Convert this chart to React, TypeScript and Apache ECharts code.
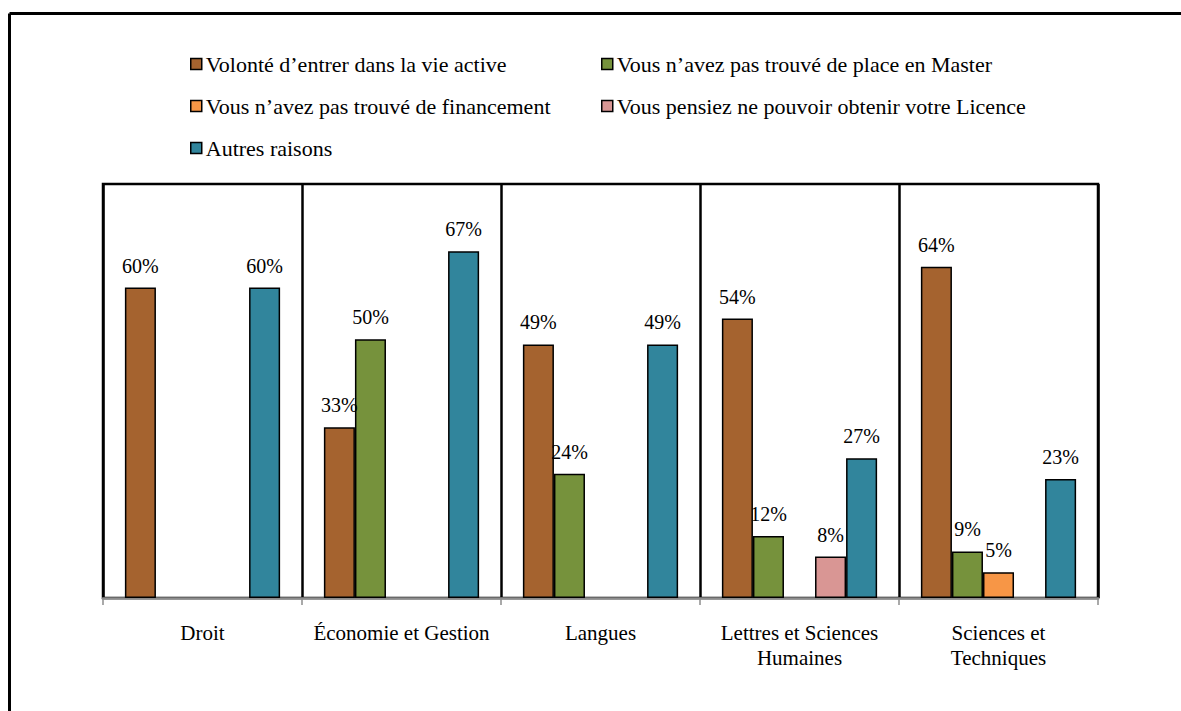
import React, { useEffect, useRef } from "react";
import * as echarts from "echarts";

const categories = [
  "Droit",
  "Économie et Gestion",
  "Langues",
  "Lettres et Sciences\nHumaines",
  "Sciences et\nTechniques",
];

const seriesNames = [
  "Volonté d’entrer dans la vie active",
  "Vous n’avez pas trouvé de place en Master",
  "Vous n’avez pas trouvé de financement",
  "Vous pensiez ne pouvoir obtenir votre Licence",
  "Autres raisons",
];

const volonte = [60, 33, 49, 54, 64];
const master = [null, 50, 24, 12, 9];
const financement = [null, null, null, null, 5];
const licence = [null, null, null, 8, null];
const autres = [60, 67, 49, 27, 23];

const seriesValues = [volonte, master, financement, licence, autres];
const colors = ["#A5632F", "#76923C", "#F79646", "#D99694", "#31859C"];

const FONT = "Liberation Serif";

export default function App() {
  const ref = useRef<HTMLDivElement>(null);
  useEffect(() => {
    if (!ref.current) return;
    const chart = echarts.init(ref.current, null, { renderer: "svg" });
    const legendCommon = {
      orient: "vertical",
      itemWidth: 11,
      itemHeight: 11,
      itemGap: 18,
      icon: "rect",
      selectedMode: false,
      textStyle: { fontFamily: FONT, fontSize: 22, color: "#000", lineHeight: 24, padding: [0, 0, 0, -1] },
      itemStyle: { borderColor: "#000", borderWidth: 1.5 },
    };
    chart.setOption({
      animation: false,
      backgroundColor: "#fff",
      textStyle: { fontFamily: FONT },
      graphic: [
        { type: "line", shape: { x1: 9.5, y1: 13.5, x2: 1181, y2: 13.5 }, style: { stroke: "#000", lineWidth: 3 } },
        { type: "line", shape: { x1: 9.5, y1: 13.5, x2: 9.5, y2: 711 }, style: { stroke: "#000", lineWidth: 3 } },
      ],
      legend: [
        { ...legendCommon, left: 185, top: 47, data: [seriesNames[0], seriesNames[2], seriesNames[4]] },
        { ...legendCommon, left: 596, top: 47, data: [seriesNames[1], seriesNames[3]] },
      ],
      grid: {
        left: 103,
        right: 83,
        top: 184,
        bottom: 113,
        show: true,
        borderColor: "#000",
        borderWidth: 2.5,
        containLabel: false,
      },
      xAxis: {
        type: "category",
        data: categories,
        axisLine: { show: true, lineStyle: { color: "#8c8c8c", width: 2.5 } },
        axisTick: { show: true, length: 7, lineStyle: { color: "#8c8c8c", width: 1.5 } },
        splitLine: { show: true, lineStyle: { color: "#000", width: 2.5 } },
        axisLabel: {
          fontFamily: FONT,
          fontSize: 21,
          color: "#000",
          lineHeight: 25,
          margin: 22,
          interval: 0,
        },
      },
      yAxis: {
        type: "value",
        min: 0,
        max: 80,
        interval: 80,
        show: true,
        axisLine: { show: false },
        axisTick: { show: false },
        axisLabel: { show: false },
        splitLine: { show: false },
      },
      series: seriesValues.map((vals, i) => ({
        name: seriesNames[i],
        type: "bar",
        data: vals,
        barGap: "0%",
        barCategoryGap: "22%",
        itemStyle: { color: colors[i], borderColor: "#000", borderWidth: 1.5 },
        label: {
          show: true,
          position: "top",
          distance: 12,
          formatter: "{c}%",
          fontFamily: FONT,
          fontSize: 20,
          color: "#000",
        },
      })),
    });
    return () => chart.dispose();
  }, []);
  return (
    <div
      ref={ref}
      style={{ position: "fixed", left: 0, top: 0, width: 1181, height: 711 }}
    />
  );
}
